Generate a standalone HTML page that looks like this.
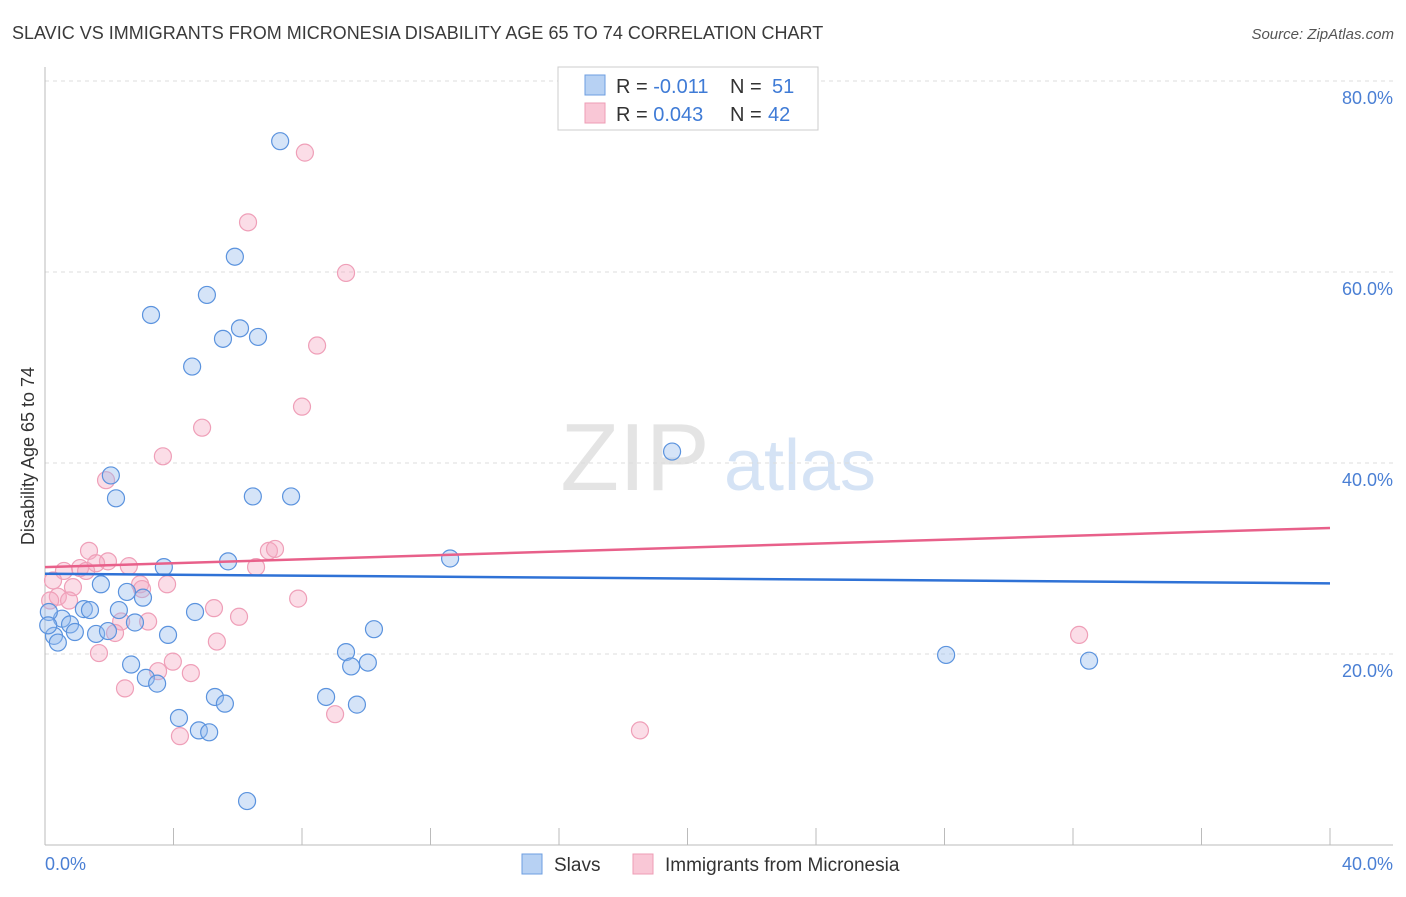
<!DOCTYPE html>
<html><head><meta charset="utf-8"><style>
body{margin:0;background:#fff;font-family:"Liberation Sans",sans-serif;}
svg text{font-family:"Liberation Sans",sans-serif;}
</style></head><body>
<svg id="chart" width="1406" height="892" viewBox="0 0 1406 892" xmlns="http://www.w3.org/2000/svg">
<text x="12" y="39" font-size="18" fill="#3a3a3a">SLAVIC VS IMMIGRANTS FROM MICRONESIA DISABILITY AGE 65 TO 74 CORRELATION CHART</text>
<text x="1394" y="39" font-size="15" fill="#555" text-anchor="end" font-style="italic">Source: ZipAtlas.com</text>
<g>
<text x="635" y="490" font-size="96" fill="#e4e4e4" text-anchor="middle" font-family="Liberation Serif">ZIP</text>
<text x="800" y="490" font-size="72" fill="#d5e3f5" text-anchor="middle">atlas</text>
</g>
<g id="grid"></g>
<g id="axes"></g>
<g id="pts"></g>
<g id="trends"></g>
<text transform="translate(34,456) rotate(-90)" font-size="18" fill="#333" text-anchor="middle">Disability Age 65 to 74</text>
<g>
<rect x="558" y="67" width="260" height="63" fill="#fff" stroke="#ccc"/>
<rect x="585" y="75" width="20" height="20" fill="#b7d1f3" stroke="#6c9ee0"/>
<rect x="585" y="103" width="20" height="20" fill="#f9c7d6" stroke="#ee9cb5"/>
<text x="616" y="93" font-size="20" fill="#333">R = <tspan fill="#3f7bd6">-0.011</tspan><tspan x="730">N = </tspan><tspan x="772" fill="#3f7bd6">51</tspan></text>
<text x="616" y="121" font-size="20" fill="#333">R = <tspan fill="#3f7bd6"> 0.043</tspan><tspan x="730">N = </tspan><tspan x="768" fill="#3f7bd6">42</tspan></text>
</g>
<g>
<rect x="522" y="854" width="20" height="20" fill="#b7d1f3" stroke="#6c9ee0"/>
<text x="554" y="871" font-size="19" fill="#333">Slavs</text>
<rect x="633" y="854" width="20" height="20" fill="#f9c7d6" stroke="#ee9cb5"/>
<text x="665" y="871" font-size="19" fill="#333">Immigrants from Micronesia</text>
</g>
</svg>
<script>
const yTicks=[20,40,60,80];
const yTickLabels=["20.0%","40.0%","60.0%","80.0%"];
const xTickVals=[0,4,8,12,16,20,24,28,32,36,40];
const xEndLabels=["0.0%","40.0%"];
const slavX=[7.32,5.91,5.04,3.30,6.07,5.54,6.63,4.58,19.52,2.05,2.21,6.47,7.66,12.61,5.70,3.70,3.05,1.74,2.55,1.21,1.40,2.30,0.53,0.78,0.93,1.59,1.96,2.80,3.83,4.67,0.28,0.40,0.12,10.24,9.37,9.53,10.05,2.68,3.14,3.49,5.29,5.60,8.75,9.71,4.17,4.79,5.11,28.05,32.50,6.29,0.10];
const slavY=[73.7,61.6,57.6,55.5,54.1,53.0,53.2,50.1,41.2,38.7,36.3,36.5,36.5,30.0,29.7,29.1,25.9,27.3,26.5,24.7,24.6,24.6,23.7,23.1,22.3,22.1,22.4,23.3,22.0,24.4,21.9,21.2,24.4,22.6,20.2,18.7,19.1,18.9,17.5,16.9,15.5,14.8,15.5,14.7,13.3,12.0,11.8,19.9,19.3,4.6,23.0];
const micX=[8.09,6.32,9.37,8.47,8.00,4.89,3.67,1.90,6.97,7.16,1.37,1.96,1.59,1.09,0.59,1.28,2.61,6.57,3.80,2.96,0.87,0.40,0.25,0.75,7.88,5.26,6.04,3.21,2.37,2.18,5.35,1.68,32.19,3.98,3.52,4.54,2.49,9.03,4.20,18.52,0.16,3.02];
const micY=[72.5,65.2,59.9,52.3,45.9,43.7,40.7,38.2,30.8,31.0,30.8,29.7,29.5,29.0,28.7,28.7,29.2,29.1,27.3,27.3,27.0,26.0,27.7,25.6,25.8,24.8,23.9,23.4,23.4,22.2,21.3,20.1,22.0,19.2,18.2,18.0,16.4,13.7,11.4,12.0,25.6,26.8];
const slavTrend=[28.4,27.4];
const micTrend=[29.1,33.2];
const NS="http://www.w3.org/2000/svg";
const X0=45,X1=1330,Y0=845,Y80=81;
const sx=v=>X0+(X1-X0)*v/40;
const sy=v=>Y0-(Y0-Y80)*v/80;
function mk(tag,attrs,parent){const e=document.createElementNS(NS,tag);for(const k in attrs)e.setAttribute(k,attrs[k]);parent.appendChild(e);return e;}
const grid=document.getElementById('grid'),axes=document.getElementById('axes');
yTicks.forEach((t,i)=>{
  const l=mk('line',{x1:X0,x2:1393,y1:sy(t),y2:sy(t),stroke:'#dcdcdc','stroke-dasharray':'4,4'},grid);
  
  
  const tx=mk('text',{x:1393,y:sy(t)+23,'font-size':18,fill:'#4a7fd4','text-anchor':'end'},axes);
  tx.textContent=yTickLabels[i];
  
  
});
mk('line',{x1:X0,x2:X0,y1:67,y2:Y0,stroke:'#bbb'},axes);
mk('line',{x1:X0,x2:1393,y1:Y0,y2:Y0,stroke:'#bbb'},axes);
xTickVals.forEach(v=>{
  const t=mk('line',{x1:sx(v),x2:sx(v),y1:828,y2:Y0,stroke:'#bbb'},axes);
  
  
});
const xl=mk('text',{x:45,y:870,'font-size':18,fill:'#4a7fd4'},axes);xl.textContent=xEndLabels[0];


const xr=mk('text',{x:1393,y:870,'font-size':18,fill:'#4a7fd4','text-anchor':'end'},axes);xr.textContent=xEndLabels[1];


const pts=document.getElementById('pts');
micX.forEach((x,i)=>{
  const c=mk('circle',{cx:sx(x),cy:sy(micY[i]),r:8.5,fill:'rgba(246,170,195,0.4)',stroke:'#ef9fb8','stroke-width':1.2},pts);
  
  
});
slavX.forEach((x,i)=>{
  const c=mk('circle',{cx:sx(x),cy:sy(slavY[i]),r:8.5,fill:'rgba(150,188,238,0.4)',stroke:'#5b93de','stroke-width':1.2},pts);
  
  
});
const tr=document.getElementById('trends');
const l1=mk('line',{x1:sx(0),x2:sx(40),y1:sy(micTrend[0]),y2:sy(micTrend[1]),stroke:'#e8608a','stroke-width':2.5},tr);


const l2=mk('line',{x1:sx(0),x2:sx(40),y1:sy(slavTrend[0]),y2:sy(slavTrend[1]),stroke:'#2f72d6','stroke-width':2.5},tr);


</script>
</body></html>
